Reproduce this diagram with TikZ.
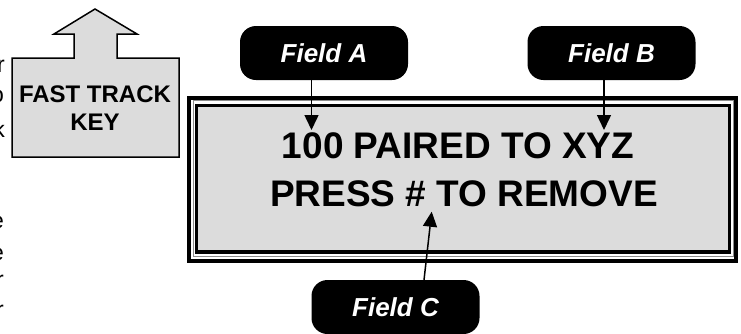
\documentclass[tikz,border=0pt]{standalone}
\usepackage{fontspec}
\setmainfont{Liberation Sans}
\usetikzlibrary{arrows.meta}
\definecolor{panel}{HTML}{DCDCDC}
\begin{document}
\begin{tikzpicture}[x=1pt,y=-1pt,
 fieldbox/.style={fill=black,rounded corners=16pt,minimum width=168pt,minimum height=54pt,inner sep=0pt,text=white,font=\bfseries\itshape\fontsize{26}{31}\selectfont},
 pointer/.style={line width=1.5pt,-{Triangle[length=15pt,width=14pt]}},
 disptext/.style={font=\bfseries\fontsize{37}{44}\selectfont,anchor=base,inner sep=0pt},
 edgechar/.style={font=\fontsize{23}{28}\selectfont,anchor=base east,inner sep=0pt},
 keytext/.style={font=\bfseries\fontsize{24}{28.5}\selectfont,align=center,inner sep=0pt}]
\useasboundingbox (0,0) rectangle (741,333);
\clip (0,0) rectangle (741,333);

% cut-off text at the left edge
\node[edgechar] (e1) at (5,72) {r};
\node[edgechar] (e2) at (4,102) {o};
\node[edgechar] (e3) at (5,137) {k};
\node[edgechar] (e4) at (4,228) {e};
\node[edgechar] (e5) at (4,260) {e};
\node[edgechar] (e6) at (4,287) {r};
\node[edgechar] (e7) at (4,317) {r};

% fast track key
\draw[line width=1.5pt,fill=panel,line join=miter]
  (12,58) -- (74,58) -- (74,34) -- (54,34) -- (95,9) -- (137,34) -- (117,34)
  -- (117,58) -- (179,58) -- (179,157) -- (12,157) -- cycle;
\node[keytext] (ftk) at (95,108) {FAST TRACK\\KEY};

% display
\draw[line width=4pt,fill=white] (189,98) rectangle (736,261);
\draw[line width=0.9pt,draw=black!45] (193,100.8) rectangle (733,256.8);
\draw[line width=3.5pt,fill=panel] (196.5,105.5) rectangle (729.7,252);
\node[disptext] (l1) at (458,158) {100 PAIRED TO XYZ};
\node[disptext] (l2) at (464,206) {PRESS \# TO REMOVE};

% field labels
\node[fieldbox] (fa) at (324,53) {Field A};
\node[fieldbox] (fb) at (611.5,53) {Field B};
\node[fieldbox] (fc) at (395.5,307) {Field C};

% pointers
\coordinate (ta) at (311.5,130);
\coordinate (tb) at (604,130);
\coordinate (sc) at (424,280);
\coordinate (tc) at (431.7,211.7);
\draw[pointer] (fa.south -| ta) -- (ta);
\draw[pointer] (fb.south -| tb) -- (tb);
\draw[pointer] (sc) -- (tc);
\end{tikzpicture}
\end{document}
